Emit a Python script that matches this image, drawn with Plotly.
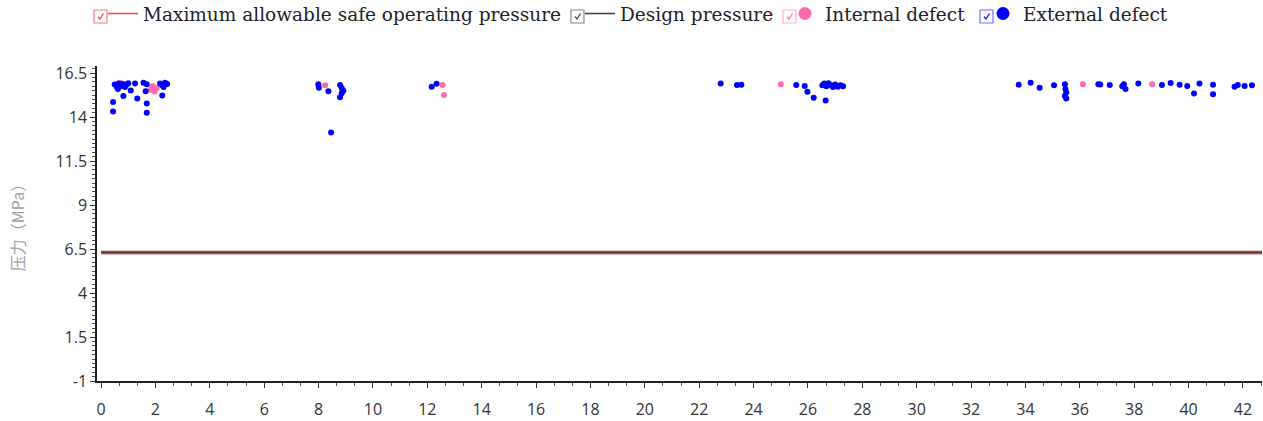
import plotly.graph_objects as go

# Mileage (km) and pressure (MPa) readings
line_mileage = [0, 42.7]
maop_pressure = [6.3, 6.3]
design_pressure = [6.3, 6.3]

internal_mileage = [0.70, 1.82, 1.90, 1.97, 2.05, 8.24, 12.56, 12.61, 25.0, 36.11, 38.66]
internal_pressure = [15.95, 15.55, 15.75, 15.45, 15.65, 15.8, 15.82, 15.25, 15.87, 15.87, 15.87]

external_mileage = [
    0.44, 0.44, 0.50, 0.58, 0.65, 0.72, 0.80, 0.88, 0.95, 1.00, 0.62, 0.82, 1.09, 1.25, 1.33,
    1.56, 1.68, 1.64, 1.68, 1.68, 2.17, 2.25, 2.35, 2.43, 2.30, 2.25,
    7.99, 8.01, 8.36, 8.46, 8.79, 8.85, 8.91, 8.85, 8.79, 12.16, 12.34,
    22.79, 23.39, 23.55, 25.57, 25.88, 25.98, 26.21, 26.65,
    26.53, 26.60, 26.68, 26.75, 26.85, 26.92, 27.00, 27.10, 27.20, 27.29,
    33.75, 34.19, 34.52, 35.05, 35.45, 35.47, 35.50, 35.45, 35.50, 36.68, 36.75, 37.10,
    37.56, 37.62, 37.68, 38.15, 39.02, 39.34, 39.67, 39.95, 40.20, 40.40, 40.90, 40.90,
    41.69, 41.81, 42.06, 42.33,
]
external_pressure = [
    14.31, 14.85, 15.85, 15.70, 15.90, 15.75, 15.88, 15.70, 15.85, 15.92, 15.60, 15.19, 15.51, 15.90, 15.06,
    15.95, 15.86, 15.46, 14.77, 14.24, 15.90, 15.80, 15.95, 15.88, 15.70, 15.23,
    15.86, 15.66, 15.47, 13.12, 15.82, 15.65, 15.50, 15.35, 15.13, 15.72, 15.89,
    15.91, 15.82, 15.84, 15.82, 15.76, 15.43, 15.10, 14.94,
    15.80, 15.90, 15.75, 15.92, 15.80, 15.70, 15.85, 15.72, 15.80, 15.75,
    15.84, 15.95, 15.66, 15.80, 15.86, 15.60, 15.40, 15.20, 15.05, 15.87, 15.85, 15.82,
    15.75, 15.86, 15.60, 15.91, 15.82, 15.93, 15.84, 15.77, 15.34, 15.91, 15.84, 15.29,
    15.72, 15.82, 15.76, 15.80,
]

y_tick_values = [-1, 1.5, 4, 6.5, 9, 11.5, 14, 16.5]
y_tick_labels = ["-1", "1.5", "4", "6.5", "9", "11.5", "14", "16.5"]
x_tick_values = list(range(0, 43, 2))

series_names = ["Maximum allowable safe operating pressure", "Design pressure",
                "Internal defect", "External defect"]
series_colors = ["#ee4444", "#3a3a3a", "#ff69b0", "#0000ff"]
checkbox_edges = ["#f08080", "#8a8a8a", "#ffb0d0", "#7070ff"]
legend_widths = [432, 160, 153, 150]

fig = go.Figure()

# data traces
fig.add_trace(go.Scatter(x=line_mileage, y=maop_pressure, mode="lines", showlegend=False,
                         line=dict(color="#e87a7a", width=4)))
fig.add_trace(go.Scatter(x=line_mileage, y=design_pressure, mode="lines", showlegend=False,
                         line=dict(color="#4a3535", width=2)))
fig.add_trace(go.Scatter(x=internal_mileage, y=internal_pressure, mode="markers", showlegend=False,
                         marker=dict(color=series_colors[2], size=6)))
fig.add_trace(go.Scatter(x=external_mileage, y=external_pressure, mode="markers", showlegend=False,
                         marker=dict(color=series_colors[3], size=6)))

# legend entries
for i, name in enumerate(series_names):
    if i < 2:
        fig.add_trace(go.Scatter(x=[None], y=[None], mode="lines", name=name,
                                 legendwidth=legend_widths[i],
                                 line=dict(color=series_colors[i], width=1.5)))
    else:
        fig.add_trace(go.Scatter(x=[None], y=[None], mode="markers", name=name,
                                 legendwidth=legend_widths[i],
                                 marker=dict(color=series_colors[i], size=13)))

# checkbox glyphs beside each legend entry (paper coordinates)
plot_left, plot_w, plot_bottom, plot_h = 97, 1165, 381, 315
box_left_px = [94, 571, 783, 980]


def px_x(p):
    return (p - plot_left) / plot_w


def px_y(p):
    return (plot_bottom - p) / plot_h


for left, edge, col in zip(box_left_px, checkbox_edges, series_colors):
    fig.add_shape(type="rect", xref="paper", yref="paper",
                  x0=px_x(left), x1=px_x(left + 13), y0=px_y(23), y1=px_y(10),
                  line=dict(color=edge, width=1.2), fillcolor="#fdfdfd", layer="above")
    path = "M {:.5f} {:.5f} L {:.5f} {:.5f} L {:.5f} {:.5f}".format(
        px_x(left + 4), px_y(16.5), px_x(left + 6), px_y(19), px_x(left + 9.5), px_y(13.5))
    fig.add_shape(type="path", xref="paper", yref="paper", path=path,
                  line=dict(color=col, width=1.2), layer="above")

fig.update_layout(
    width=1263, height=421,
    margin=dict(l=97, r=1, t=66, b=40, autoexpand=False),
    paper_bgcolor="white", plot_bgcolor="white",
    showlegend=True,
    legend=dict(
        orientation="h", x=px_x(103), xanchor="left", y=px_y(14), yref="paper", yanchor="middle",
        font=dict(family="DejaVu Serif", size=18.5, color="#222"),
        itemwidth=30, traceorder="normal", bgcolor="rgba(0,0,0,0)",
    ),
    xaxis=dict(
        range=[-0.15, 42.7], tickvals=x_tick_values, ticks="outside", ticklen=5, tickcolor="#333",
        showline=True, linecolor="#222", linewidth=1.5, showgrid=False, zeroline=False,
        tickfont=dict(family="Open Sans", size=16, color="#333"), ticklabelstandoff=8,
        minor=dict(dtick=2 / 3, tick0=0, ticks="outside", ticklen=3, tickcolor="#555"),
    ),
    yaxis=dict(
        range=[-1, 16.9], tickvals=y_tick_values, ticktext=y_tick_labels,
        ticks="outside", ticklen=5, tickcolor="#333",
        showline=True, linecolor="#222", linewidth=1.5, showgrid=False, zeroline=False,
        tickfont=dict(family="Open Sans", size=16, color="#333"),
        minor=dict(dtick=0.25, tick0=-1, ticks="outside", ticklen=3, tickcolor="#555"),
        title=dict(text="压力（MPa）", font=dict(family="Noto Sans CJK SC", size=16, color="#a0a0a0"),
                   standoff=27),
    ),
)

fig.write_html("out.html")
